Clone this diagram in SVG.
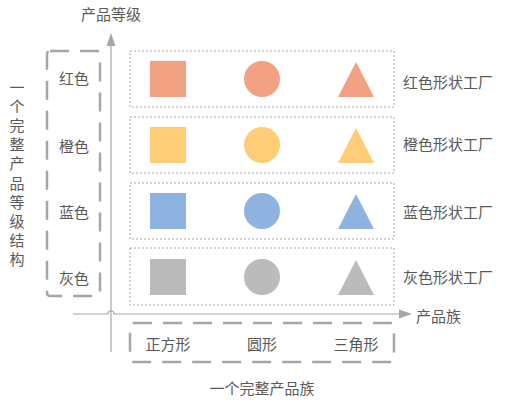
<svg xmlns="http://www.w3.org/2000/svg" width="507" height="403" viewBox="0 0 507 403">
<defs>
<style>
.t{font-family:"Noto Sans CJK SC","Liberation Sans",sans-serif;font-size:15px;fill:#595959;}
.m{text-anchor:middle;dominant-baseline:central;}
.s{text-anchor:start;dominant-baseline:central;}
.dash{fill:none;stroke:#A6A6A6;stroke-width:2.5;stroke-dasharray:19 11;}
.dot{fill:none;stroke:#A6A6A6;stroke-width:1;stroke-dasharray:2 2;}
.axis{fill:none;stroke:#A6A6A6;stroke-width:1.2;}
.red{fill:#F2A283;}
.org{fill:#FFCC77;}
.blu{fill:#8EB3E0;}
.gry{fill:#BBBBBB;}
</style>
<marker id="ah" markerWidth="10" markerHeight="10" refX="0" refY="5" orient="auto" markerUnits="userSpaceOnUse">
<path d="M0 0 L14 5 L0 10 Z" fill="#A6A6A6"/>
</marker>
</defs>
<rect width="507" height="403" fill="#ffffff"/>

<g id="connectors">
<line class="axis" x1="111" y1="352" x2="111" y2="45"/>
<polygon points="111,33 106.5,46 115.5,46" fill="#A6A6A6"/>
<path class="axis" d="M73 314 H108 A3 3 0 0 1 114 314 H399"/>
<polygon points="412,314 399,309.5 399,318.5" fill="#A6A6A6"/>
</g>

<g id="axis-labels">
<text class="t m" x="111" y="13">产品等级</text>
<text class="t s" x="416" y="315">产品族</text>
<text class="t m" x="262" y="387">一个完整产品族</text>
<g id="vertical-label">
<text class="t m" x="17" y="86">一</text>
<text class="t m" x="17" y="105.2">个</text>
<text class="t m" x="17" y="124.4">完</text>
<text class="t m" x="17" y="143.6">整</text>
<text class="t m" x="17" y="162.8">产</text>
<text class="t m" x="17" y="182">品</text>
<text class="t m" x="17" y="201.2">等</text>
<text class="t m" x="17" y="220.4">级</text>
<text class="t m" x="17" y="239.6">结</text>
<text class="t m" x="17" y="258.8">构</text>
</g>
</g>

<g id="level-box">
<rect class="dash" x="47" y="51" width="53" height="245" rx="3"/>
<text class="t m" x="74" y="77">红色</text>
<text class="t m" x="74" y="145">橙色</text>
<text class="t m" x="74" y="211">蓝色</text>
<text class="t m" x="74" y="277">灰色</text>
</g>

<g id="family-box">
<rect class="dash" x="130" y="323" width="264" height="39" rx="3"/>
<text class="t m" x="168" y="343">正方形</text>
<text class="t m" x="262" y="343">圆形</text>
<text class="t m" x="356" y="343">三角形</text>
</g>

<g id="red-factory">
<rect class="dot" x="130" y="51" width="264" height="56"/>
<rect class="red" x="150" y="61" width="36" height="36"/>
<circle class="red" cx="262" cy="79" r="18"/>
<polygon class="red" points="356,62 374,97 338,97"/>
<text class="t s" x="403" y="81">红色形状工厂</text>
</g>

<g id="orange-factory">
<rect class="dot" x="130" y="117" width="264" height="56"/>
<rect class="org" x="150" y="127" width="36" height="36"/>
<circle class="org" cx="262" cy="145" r="18"/>
<polygon class="org" points="356,128 374,163 338,163"/>
<text class="t s" x="403" y="143">橙色形状工厂</text>
</g>

<g id="blue-factory">
<rect class="dot" x="130" y="183" width="264" height="56"/>
<rect class="blu" x="150" y="193" width="36" height="36"/>
<circle class="blu" cx="262" cy="211" r="18"/>
<polygon class="blu" points="356,194 374,229 338,229"/>
<text class="t s" x="403" y="211">蓝色形状工厂</text>
</g>

<g id="gray-factory">
<rect class="dot" x="130" y="248" width="264" height="57"/>
<rect class="gry" x="150" y="259" width="36" height="36"/>
<circle class="gry" cx="262" cy="277" r="18"/>
<polygon class="gry" points="356,260 374,295 338,295"/>
<text class="t s" x="403" y="276">灰色形状工厂</text>
</g>
</svg>
